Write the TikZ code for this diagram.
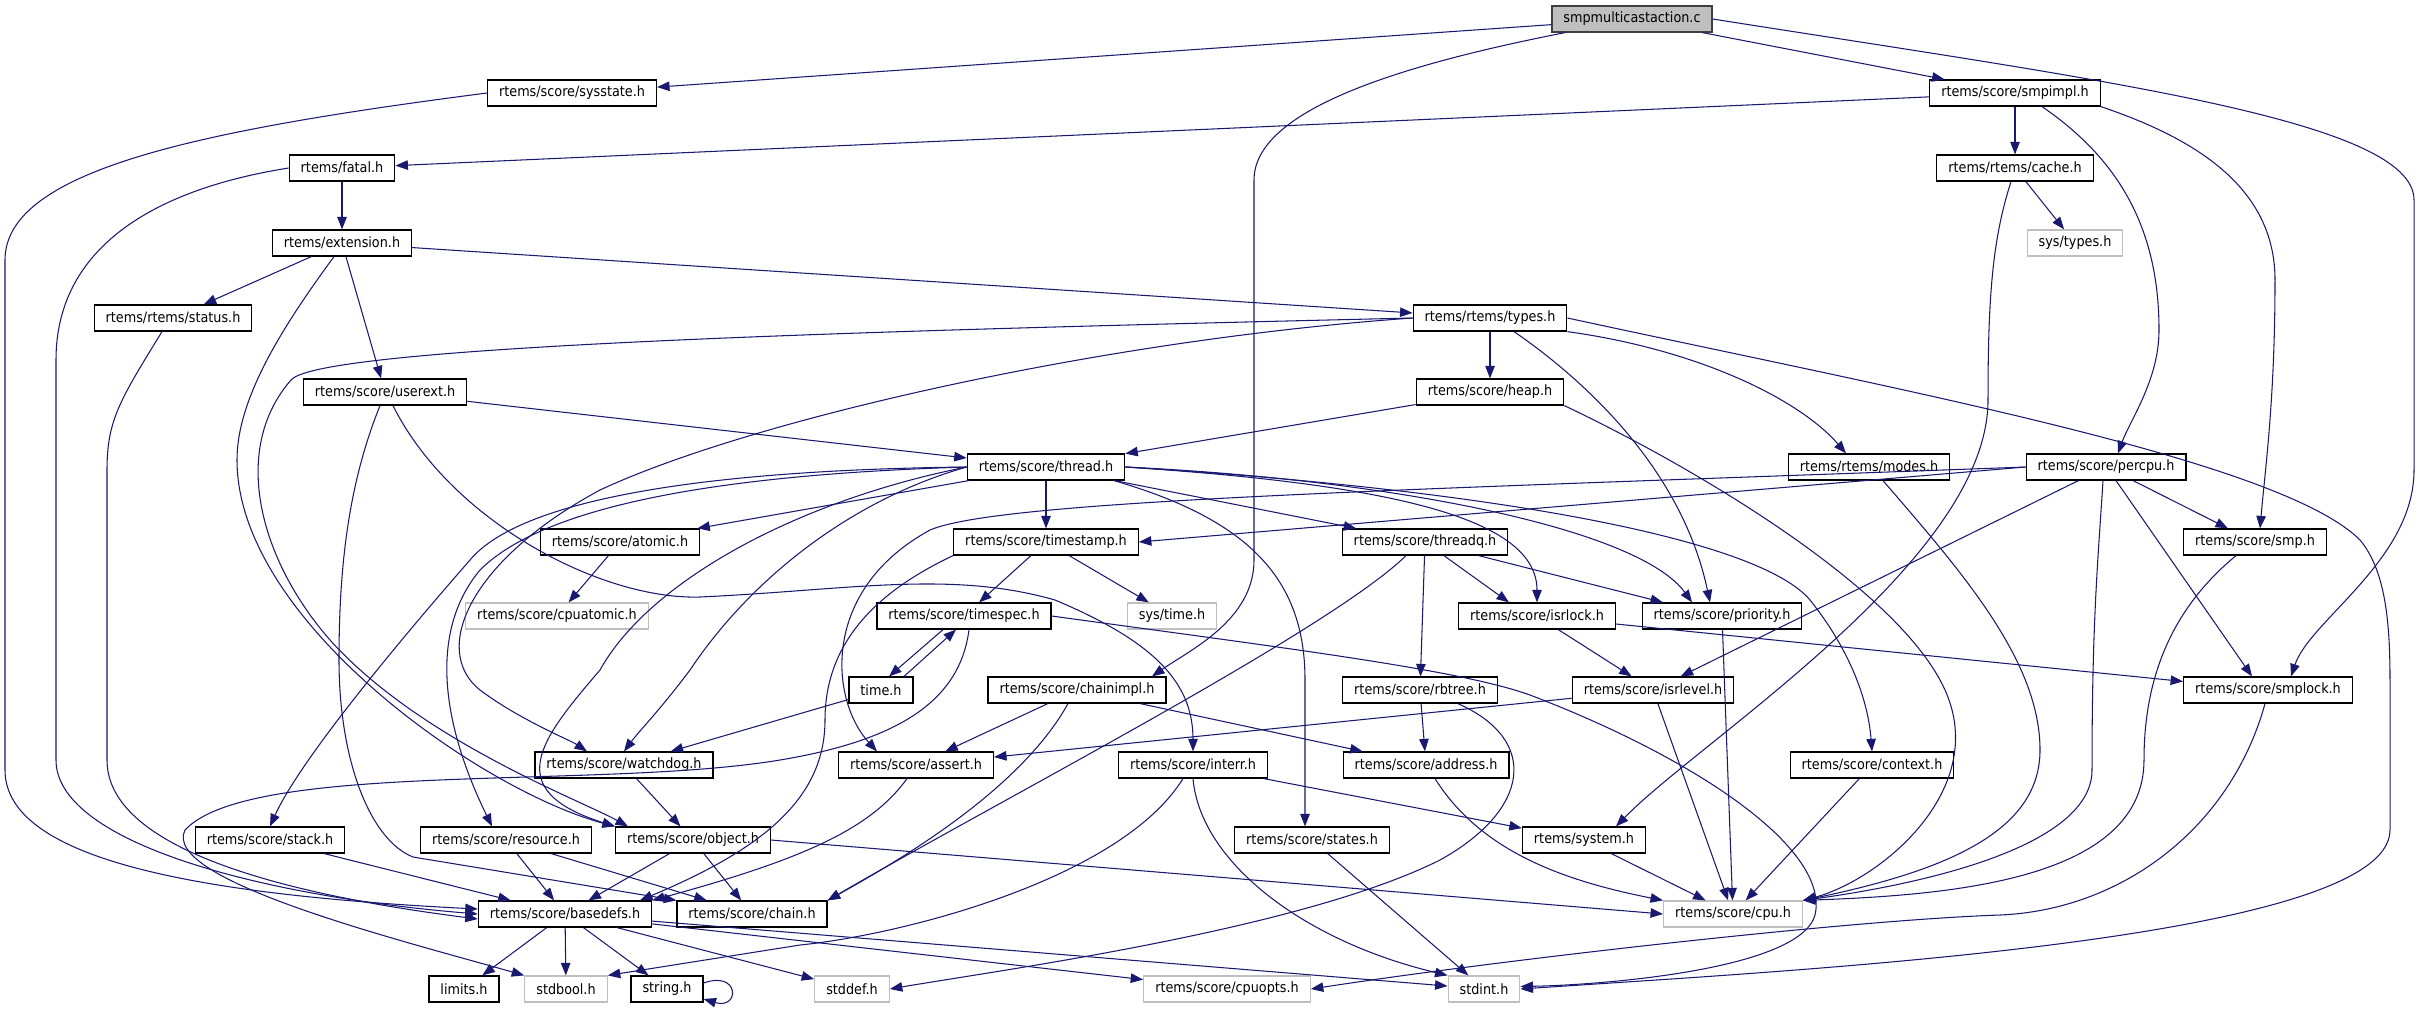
\documentclass[tikz,border=0pt]{standalone}
\usepackage{fontspec}
\setmainfont{DejaVu Sans Condensed}
\usetikzlibrary{arrows.meta}
\definecolor{edgeblue}{RGB}{25,25,112}
\definecolor{sysgray}{RGB}{191,191,191}

\begin{document}
\begin{tikzpicture}[x=0.02cm,y=-0.02cm,>={Triangle[length=0.25cm,width=0.19cm]}]
	\tikzstyle{every node}=[draw,shape=rectangle,font=\fontsize{8.1}{9}\selectfont,inner xsep=0.23cm,inner ysep=0pt,minimum height=0.52cm,line width=0.7pt]
	\tikzstyle{sys}=[draw=sysgray]
	\tikzstyle{dep}=[->,draw=edgeblue,line width=0.6pt]
	\useasboundingbox (0,0) rectangle (2417,1009);
	\node[fill=sysgray,draw=black!75] (smpm) at (1632,19) {smpmulticastaction.c};
	\node (sysstate) at (572,93) {rtems/score/sysstate.h};
	\node (smpimpl) at (2015,93) {rtems/score/smpimpl.h};
	\node (fatal) at (342,168) {rtems/fatal.h};
	\node (cache) at (2015,168) {rtems/rtems/cache.h};
	\node (extension) at (342,243) {rtems/extension.h};
	\node[sys] (systypes) at (2075,243) {sys/types.h};
	\node (status) at (173,318) {rtems/rtems/status.h};
	\node (types) at (1490,318) {rtems/rtems/types.h};
	\node (userext) at (385,392) {rtems/score/userext.h};
	\node (heap) at (1490,392) {rtems/score/heap.h};
	\node (thread) at (1046,467) {rtems/score/thread.h};
	\node (modes) at (1869,467) {rtems/rtems/modes.h};
	\node (percpu) at (2106,467) {rtems/score/percpu.h};
	\node (atomic) at (620,542) {rtems/score/atomic.h};
	\node (timestamp) at (1046,542) {rtems/score/timestamp.h};
	\node (threadq) at (1425,542) {rtems/score/threadq.h};
	\node (smp) at (2255,542) {rtems/score/smp.h};
	\node[sys] (cpuatomic) at (557,616) {rtems/score/cpuatomic.h};
	\node (timespec) at (964,616) {rtems/score/timespec.h};
	\node[sys] (systime) at (1172,616) {sys/time.h};
	\node (isrlock) at (1537,616) {rtems/score/isrlock.h};
	\node (priority) at (1722,616) {rtems/score/priority.h};
	\node (timeh) at (881,690) {time.h};
	\node (chainimpl) at (1077,690) {rtems/score/chainimpl.h};
	\node (rbtree) at (1420,690) {rtems/score/rbtree.h};
	\node (isrlevel) at (1653,690) {rtems/score/isrlevel.h};
	\node (smplock) at (2268,690) {rtems/score/smplock.h};
	\node (watchdog) at (624,765) {rtems/score/watchdog.h};
	\node (assert) at (916,765) {rtems/score/assert.h};
	\node (interr) at (1193,765) {rtems/score/interr.h};
	\node (address) at (1426,765) {rtems/score/address.h};
	\node (context) at (1872,765) {rtems/score/context.h};
	\node (stack) at (270,840) {rtems/score/stack.h};
	\node (resource) at (506,840) {rtems/score/resource.h};
	\node (object) at (693,840) {rtems/score/object.h};
	\node (states) at (1312,840) {rtems/score/states.h};
	\node (system) at (1584,840) {rtems/system.h};
	\node (basedefs) at (565,914) {rtems/score/basedefs.h};
	\node (chain) at (752,914) {rtems/score/chain.h};
	\node[sys] (cpu) at (1733,914) {rtems/score/cpu.h};
	\node (limits) at (464,989) {limits.h};
	\node[sys] (stdbool) at (566,989) {stdbool.h};
	\node (string) at (667,989) {string.h};
	\node[sys] (stddef) at (852,989) {stddef.h};
	\node[sys] (cpuopts) at (1227,989) {rtems/score/cpuopts.h};
	\node[sys] (stdint) at (1484,989) {stdint.h};
	\draw [dep] (smpm) -- (sysstate);
	\draw [dep] (smpm) -- (smpimpl);
	\draw [dep] (smpm.south -| 1565,0) .. controls (1400,65) and (1254,110) .. (1254,180) -- (1254,560) .. controls (1254,620) and (1190,650) .. (chainimpl.north -| 1152,0);
	\draw [dep] (smpm.east) .. controls (2100,80) and (2414,120) .. (2414,200) -- (2414,470) .. controls (2414,560) and (2310,620) .. (smplock.north -| 2291,0);
	\draw [dep] (sysstate.west) .. controls (200,130) and (5,170) .. (5,260) -- (5,770) .. controls (5,860) and (200,895) .. ([yshift=0.1cm]basedefs.west);
	\draw [dep] (smpimpl) -- (fatal);
	\draw [dep] (smpimpl) -- (cache);
	\draw [dep] (smpimpl.south -| 2042,0) .. controls (2120,160) and (2159,230) .. (2159,330) .. controls (2159,380) and (2130,420) .. (percpu.north -| 2118,0);
	\draw [dep] (smpimpl.south east) .. controls (2200,140) and (2275,190) .. (2275,280) .. controls (2275,400) and (2265,470) .. (smp.north -| 2260,0);
	\draw [dep] (fatal) -- (extension);
	\draw [dep] (fatal.west) .. controls (150,190) and (56,250) .. (56,360) -- (56,760) .. controls (56,840) and (250,895) .. (basedefs.west);
	\draw [dep] (cache) -- (systypes);
	\draw [dep] (cache.south -| 2011,0) .. controls (1992,240) and (1988,300) .. (1988,400) .. controls (1988,560) and (1700,740) .. (system.north -| 1616,0);
	\draw [dep] (extension) -- (status);
	\draw [dep] (extension) -- (types);
	\draw [dep] (extension) -- (userext);
	\draw [dep] (extension.south -| 334,0) .. controls (280,330) and (237,400) .. (237,460) .. controls (237,620) and (480,790) .. (object.north west);
	\draw [dep] (status.south -| 162,0) .. controls (120,400) and (107,420) .. (107,470) -- (107,760) .. controls (107,840) and (250,890) .. ([yshift=-0.1cm]basedefs.west);
	\draw [dep] (types) -- (heap);
	\draw [dep] (types.south east) .. controls (1700,350) and (1800,400) .. (modes.north -| 1846,0);
	\draw [dep] (types.south -| 1514,0) .. controls (1570,370) and (1680,460) .. (priority.north -| 1710,0);
	\draw [dep] (types.west) .. controls (900,330) and (320,345) .. (291,380) .. controls (230,450) and (260,560) .. (330,640) .. controls (420,740) and (580,800) .. (object.north -| 628,0);
	\draw [dep] (types.west) .. controls (1100,340) and (750,420) .. (600,490) .. controls (470,560) and (430,650) .. (480,690) .. controls (520,720) and (570,740) .. (watchdog.north -| 587,0);
	\draw [dep] (types.east) .. controls (1900,390) and (2280,460) .. (2360,540) .. controls (2385,570) and (2390,620) .. (2390,680) -- (2390,830) .. controls (2390,940) and (1800,970) .. (stdint.east);
	\draw [dep] (userext) -- (thread);
	\draw [dep] (userext.south -| 380,0) .. controls (350,480) and (339,560) .. (339,660) .. controls (339,760) and (370,840) .. (413,857) -- (chain.north west);
	\draw [dep] (userext.south -| 393,0) .. controls (450,520) and (600,600) .. (700,597) .. controls (850,590) and (950,570) .. (1055,600) .. controls (1150,640) and (1193,680) .. (interr.north);
	\draw [dep] (heap) -- (thread);
	\draw [dep] (heap.south east) .. controls (1700,470) and (1900,590) .. (1945,690) .. controls (1990,790) and (1880,880) .. (cpu.north east);
	\draw [dep] (modes.south -| 1883,0) .. controls (1960,570) and (2040,660) .. (2040,750) .. controls (2040,830) and (1950,870) .. (cpu.north east);
	\draw [dep] (percpu.west) -- (timestamp.east);
	\draw [dep] (percpu.west) .. controls (1400,490) and (1000,500) .. (930,530) .. controls (820,590) and (830,700) .. (assert.north -| 877,0);
	\draw [dep] (percpu) -- (isrlevel);
	\draw [dep] (percpu) -- (smp);
	\draw [dep] (percpu.south -| 2116,0) -- (smplock.north -| 2252,0);
	\draw [dep] (percpu.south -| 2103,0) .. controls (2098,560) and (2092,620) .. (2092,770) .. controls (2092,840) and (1950,880) .. (cpu.north east);
	\draw [dep] (smp.south -| 2236,0) .. controls (2170,610) and (2144,680) .. (2144,760) .. controls (2144,880) and (1950,895) .. (cpu.north east);
	\draw [dep] (thread) -- (timestamp);
	\draw [dep] (thread) -- (threadq);
	\draw [dep] (thread) -- (atomic);
	\draw [dep] (thread.west) .. controls (850,500) and (750,580) .. (690,670) .. controls (660,710) and (640,730) .. (watchdog.north);
	\draw [dep] (thread.west) .. controls (800,500) and (650,580) .. (600,670) .. controls (540,740) and (500,790) .. (object.north west);
	\draw [dep] (thread.west) .. controls (700,470) and (520,500) .. (470,560) .. controls (400,640) and (300,760) .. (stack.north);
	\draw [dep] (thread.west) .. controls (700,475) and (540,510) .. (480,570) .. controls (430,630) and (440,720) .. (resource.north -| 492,0);
	\draw [dep] (thread.east) .. controls (1400,485) and (1537,520) .. (isrlock.north);
	\draw [dep] (thread.east) .. controls (1400,480) and (1640,530) .. (priority.north -| 1692,0);
	\draw [dep] (thread.east) .. controls (1500,490) and (1760,540) .. (1810,600) .. controls (1850,650) and (1868,700) .. (context.north);
	\draw [dep] (thread.south -| 1114,0) .. controls (1250,520) and (1305,580) .. (1305,680) -- (states.north -| 1305,0);
	\draw [dep] (atomic) -- (cpuatomic);
	\draw [dep] (timestamp) -- (timespec);
	\draw [dep] (timestamp) -- (systime);
	\draw [dep] (timestamp.south west) .. controls (880,590) and (825,640) .. (825,720) .. controls (825,800) and (760,850) .. (basedefs.north -| 640,0);
	\draw [dep] (threadq) -- (priority.north -| 1663,0);
	\draw [dep] (threadq) -- (isrlock.north -| 1509,0);
	\draw [dep] (threadq) -- (rbtree);
	\draw [dep] (threadq.south -| 1406,0) .. controls (1330,630) and (1000,800) .. (chain.north east);
	\draw [dep] (timespec.south -| 943,0) -- (timeh.north -| 889,0);
	\draw [dep] (timeh.north -| 904,0) -- (timespec.south -| 956,0);
	\draw [dep] (timespec.south -| 969,0) .. controls (960,700) and (900,740) .. (780,760) .. controls (600,790) and (250,760) .. (185,830) .. controls (160,880) and (400,940) .. (stdbool.north west);
	\draw [dep] (timespec.east) .. controls (1300,650) and (1460,670) .. (1530,695) .. controls (1700,760) and (1830,850) .. (1815,915) .. controls (1800,970) and (1600,985) .. ([yshift=0.05cm]stdint.east);
	\draw [dep] (isrlock) -- (isrlevel);
	\draw [dep] (isrlock) -- (smplock);
	\draw [dep] (priority) -- (cpu);
	\draw [dep] (timeh) -- (watchdog);
	\draw [dep] (chainimpl) -- (assert);
	\draw [dep] (chainimpl) -- (address);
	\draw [dep] (chainimpl.south -| 1068,0) .. controls (1020,790) and (900,860) .. (chain.north east);
	\draw [dep] (rbtree) -- (address);
	\draw [dep] (rbtree.south -| 1458,0) .. controls (1540,740) and (1530,810) .. (1440,860) .. controls (1300,930) and (1000,970) .. (stddef.east);
	\draw [dep] (isrlevel) -- (assert);
	\draw [dep] (isrlevel) -- (cpu);
	\draw [dep] (smplock.south -| 2265,0) .. controls (2230,830) and (2120,910) .. (2000,915) .. controls (1850,920) and (1500,960) .. (cpuopts.east);
	\draw [dep] (watchdog) -- (object);
	\draw [dep] (assert.south -| 907,0) .. controls (870,830) and (800,860) .. (basedefs.north east);
	\draw [dep] (interr) -- (system);
	\draw [dep] (interr.south -| 1183,0) .. controls (1120,880) and (900,935) .. (800,945) -- (stdbool.north east);
	\draw [dep] (interr.south) .. controls (1200,860) and (1300,940) .. (stdint.north west);
	\draw [dep] (address.south -| 1435,0) .. controls (1480,850) and (1560,880) .. (cpu.north west);
	\draw [dep] (context) -- (cpu);
	\draw [dep] (stack) -- (basedefs);
	\draw [dep] (resource) -- (basedefs);
	\draw [dep] (resource) -- (chain);
	\draw [dep] (object) -- (basedefs);
	\draw [dep] (object) -- (chain);
	\draw [dep] (object.east) -- (cpu.west);
	\draw [dep] (states) -- (stdint);
	\draw [dep] (system) -- (cpu);
	\draw [dep] (basedefs) -- (limits);
	\draw [dep] (basedefs) -- (stdbool);
	\draw [dep] (basedefs) -- (string);
	\draw [dep] (basedefs) -- (stddef);
	\draw [dep] (basedefs) -- (cpuopts);
	\draw [dep] (basedefs) -- (stdint);
	\draw [dep] ([yshift=0.12cm]string.east) .. controls (740,970) and (740,1010) .. ([yshift=-0.2cm]string.east);
\end{tikzpicture}
\end{document}
